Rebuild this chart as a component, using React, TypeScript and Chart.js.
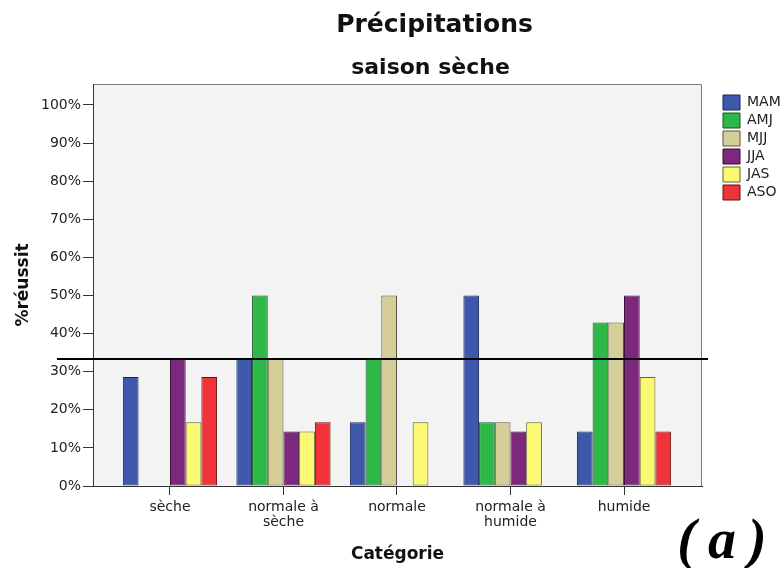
import React, { useEffect, useRef } from "react";
import { Chart, registerables } from "chart.js";

Chart.register(...registerables);

const TITLE = "Précipitations";
const SUBTITLE = "saison sèche";
const X_TITLE = "Catégorie";
const Y_TITLE = "%réussit";
const PANEL_LABEL = "(a)";

const CATEGORIES = ["sèche", "normale à sèche", "normale", "normale à humide", "humide"];
const SERIES = ["MAM", "AMJ", "MJJ", "JJA", "JAS", "ASO"];

const MAM = [28.6, 33.3, 16.7, 50, 14.3];
const AMJ = [0, 50, 33.3, 16.7, 42.9];
const MJJ = [0, 33.3, 50, 16.7, 42.9];
const JJA = [33.3, 14.3, 0, 14.3, 50];
const JAS = [16.7, 14.3, 16.7, 16.7, 28.6];
const ASO = [28.6, 16.7, 0, 0, 14.3];

const Y_TICKS = [0, 10, 20, 30, 40, 50, 60, 70, 80, 90, 100];
const THRESHOLD = 100 / 3;

const FILLS = ["#3E58AC", "#2EB848", "#D6CE98", "#7C287D", "#FBF873", "#EF3338"];
const BORDERS = ["#1A2754", "#14561F", "#57533A", "#340E35", "#66622A", "#621214"];

const VALUES = [MAM, AMJ, MJJ, JJA, JAS, ASO];
const FONT = "'DejaVu Sans', 'Verdana', sans-serif";

function wrap(label: string): string | string[] {
  const i = label.indexOf(" à ");
  if (i >= 0) return [label.slice(0, i + 2), label.slice(i + 3)];
  return label;
}

const framePlugin = {
  id: "frame",
  beforeDraw(chart: any) {
    const { ctx, chartArea: a } = chart;
    ctx.save();
    ctx.fillStyle = "#F3F3F3";
    ctx.fillRect(a.left, a.top, a.right - a.left, a.bottom - a.top);
    ctx.strokeStyle = "#7A7A7A";
    ctx.lineWidth = 1;
    ctx.beginPath();
    ctx.moveTo(a.left, a.top + 0.5);
    ctx.lineTo(a.right - 0.5, a.top + 0.5);
    ctx.lineTo(a.right - 0.5, a.bottom);
    ctx.stroke();
    ctx.restore();
  },
  afterDatasetsDraw(chart: any) {
    const { ctx, chartArea: a, scales } = chart;
    const y = scales.y.getPixelForValue(THRESHOLD);
    ctx.save();
    ctx.strokeStyle = "#000";
    ctx.lineWidth = 2;
    ctx.beginPath();
    ctx.moveTo(a.left - 36, y);
    ctx.lineTo(a.right + 6, y);
    ctx.stroke();
    ctx.restore();
  },
  afterDraw(chart: any) {
    const { ctx, chartArea: a } = chart;
    const cx = (a.left + a.right) / 2;
    ctx.save();
    ctx.fillStyle = "#111";
    ctx.textAlign = "center";
    ctx.textBaseline = "alphabetic";
    ctx.font = `bold 25px ${FONT}`;
    ctx.fillText(TITLE, cx + 37, 32);
    ctx.font = `bold 22px ${FONT}`;
    ctx.fillText(SUBTITLE, cx + 33, 74);
    ctx.fillStyle = "#000";
    ctx.font = "bold italic 56px 'Liberation Serif', 'DejaVu Serif', serif";
    (ctx as any).letterSpacing = "12px";
    ctx.fillText(PANEL_LABEL, a.right + 26, a.bottom + 72);
    ctx.restore();
  },
};

export default function App() {
  const ref = useRef<HTMLCanvasElement | null>(null);

  useEffect(() => {
    if (!ref.current) return;
    const datasets = SERIES.map((name, s) => ({
      label: name,
      data: VALUES[s].map((v, i) => ({ x: i, y: v === 0 ? null : v })),
      backgroundColor: FILLS[s],
      borderColor: BORDERS[s],
      borderWidth: 1,
      borderSkipped: false,
      categoryPercentage: 0.83,
      barPercentage: 1,
    }));

    const chart = new Chart(ref.current, {
      type: "bar",
      data: { datasets } as any,
      plugins: [framePlugin],
      options: {
        animation: false,
        responsive: false,
        layout: { padding: { top: 84, left: 0, right: 0, bottom: 0 } },
        plugins: {
          legend: {
            position: "right",
            align: "start",
            maxWidth: 60,
            title: { display: true, text: " ", font: { size: 8, lineHeight: 1 }, padding: 0 },
            labels: {
              boxWidth: 17,
              boxHeight: 15,
              padding: 3,
              color: "#222",
              font: { family: FONT, size: 14 },
            },
          },
          tooltip: { enabled: false },
        },
        scales: {
          x: {
            type: "linear",
            offset: false,
            min: -0.678,
            max: 4.687,
            afterBuildTicks: (scale: any) => {
              scale.ticks = CATEGORIES.map((_, i) => ({ value: i }));
            },
            afterFit: (scale: any) => {
              scale.height = 82;
            },
            grid: { display: true, offset: false, drawOnChartArea: false, drawTicks: true, tickLength: 9, color: "#333" },
            border: { display: true, color: "#333", width: 1 },
            ticks: {
              autoSkip: false,
              maxRotation: 0,
              padding: 5,
              color: "#222",
              font: { family: FONT, size: 14, lineHeight: 1.05 },
              callback: (v: any) => wrap(CATEGORIES[Math.round(Number(v))] ?? ""),
            },
            title: {
              display: true,
              text: X_TITLE,
              color: "#111",
              font: { family: FONT, size: 17, weight: "bold", lineHeight: 1.2 },
              padding: { top: 0, bottom: 3 },
            },
          },
          y: {
            type: "linear",
            min: 0,
            max: 105.5,
            afterBuildTicks: (scale: any) => {
              scale.ticks = Y_TICKS.map((v) => ({ value: v }));
            },
            afterFit: (scale: any) => {
              scale.width = 93;
            },
            grid: { display: true, drawOnChartArea: false, drawTicks: true, tickLength: 10, color: "#333" },
            border: { display: true, color: "#333", width: 1 },
            ticks: {
              padding: 2,
              color: "#222",
              font: { family: FONT, size: 14 },
              callback: (v: any) => `${v}%`,
            },
            title: {
              display: true,
              text: Y_TITLE,
              color: "#111",
              font: { family: FONT, size: 17, weight: "bold", lineHeight: 1.2 },
              padding: { top: 13, bottom: 0 },
            },
          },
          yr: {
            type: "linear",
            position: "right",
            display: true,
            grid: { display: false },
            border: { display: false },
            ticks: { display: false },
            afterFit: (scale: any) => {
              scale.width = 18;
            },
          },
        },
      } as any,
    });
    return () => chart.destroy();
  }, []);

  return (
    <div style={{ position: "absolute", left: 0, top: 0, width: 780, height: 568 }}>
      <canvas ref={ref} width={780} height={568} style={{ display: "block" }} />
    </div>
  );
}
